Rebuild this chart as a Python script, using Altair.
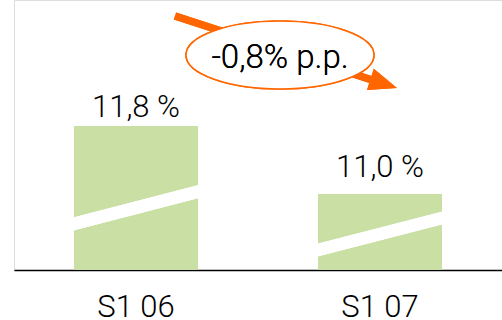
import altair as alt
import pandas as pd

# Half-year values (%)
periods = ["S1 06", "S1 07"]
values = [11.8, 11.0]
labels = ["11,8 %", "11,0 %"]
change_label = "-0,8% p.p."

# The value axis is cut: bars start from this value, not from zero
axis_floor = 10.106
axis_ceiling = 13.282

GREEN = "#cadfa3"
ORANGE = "#ff6600"
FONT = "Roboto"
WEIGHT = 300

df = pd.DataFrame({"period": periods, "value": values, "label": labels})

x_enc = alt.X("period:N", sort=periods,
              scale=alt.Scale(paddingInner=0.492, paddingOuter=0.246),
              axis=alt.Axis(title=None, labelAngle=0, labelFontSize=31,
                            labelFont=FONT, labelFontWeight=WEIGHT, labelColor="black",
                            labelPadding=22.5, ticks=False, domainColor="black",
                            domainWidth=1.6, grid=False))
y_scale = alt.Scale(domain=[axis_floor, axis_ceiling], nice=False, zero=False)

base = alt.Chart(df)

bars = base.mark_bar(color=GREEN).encode(
    x=x_enc,
    y=alt.Y("value:Q", scale=y_scale, axis=None),
    y2=alt.datum(axis_floor),
)

# White slanted band across each bar marking the cut axis
def cut_band(x1, y1, x2, y2):
    return alt.Chart(df).mark_rule(color="white", strokeWidth=12.6, strokeCap="butt").encode(
        x=alt.value(x1), y=alt.value(y1), x2=alt.value(x2), y2=alt.value(y2)
    )

band1 = cut_band(56, 224.8, 190, 190.2)
band2 = cut_band(300, 251.0, 434, 216.5)

def value_text(period, dy):
    return base.transform_filter(alt.datum.period == period).mark_text(
        fontSize=31, font=FONT, fontWeight=WEIGHT, color="black",
        baseline="alphabetic", dy=dy
    ).encode(x=alt.X("period:N", sort=periods), y=alt.Y("value:Q", scale=y_scale), text="label:N")

text1 = value_text(periods[0], -9)
text2 = value_text(periods[1], -16.5)

# Orange arrow showing the drop between the two periods
shaft = alt.Chart(df).mark_rule(color=ORANGE, strokeWidth=7.6, strokeCap="butt").encode(
    x=alt.value(161), y=alt.value(16), x2=alt.value(358), y2=alt.value(80)
)
head = alt.Chart(df).mark_point(
    shape="M 1 0 L -1 -0.79 L -1 0.79 Z", size=784, angle=18,
    filled=True, color=ORANGE, opacity=1
).encode(x=alt.value(369.7), y=alt.value(83.7))

ellipse_path = ("M -1 0 C -1 -0.1998 -0.5523 -0.3617 0 -0.3617 "
                "C 0.5523 -0.3617 1 -0.1998 1 0 "
                "C 1 0.1998 0.5523 0.3617 0 0.3617 "
                "C -0.5523 0.3617 -1 0.1998 -1 0 Z")
bubble = alt.Chart(df).mark_point(
    shape=ellipse_path, size=188 * 188, filled=True, fill="white",
    stroke=ORANGE, strokeWidth=1.6, opacity=1, fillOpacity=1, strokeOpacity=1
).encode(x=alt.value(266), y=alt.value(55))

bubble_text = alt.Chart(df).mark_text(
    text=change_label, fontSize=33, font=FONT, fontWeight=WEIGHT, color="black",
    baseline="alphabetic"
).encode(x=alt.value(266), y=alt.value(67.5))

chart = alt.layer(
    bars, band1, band2, text1, text2, shaft, head, bubble, bubble_text
).properties(
    width=488, height=270,
    autosize=alt.AutoSizeParams(type="none"),
    padding={"left": 14, "top": 0, "right": 0, "bottom": 50},
).configure_view(stroke=None).configure(background="white")

chart.save("out.html", embed_options={"renderer": "svg", "actions": False})
